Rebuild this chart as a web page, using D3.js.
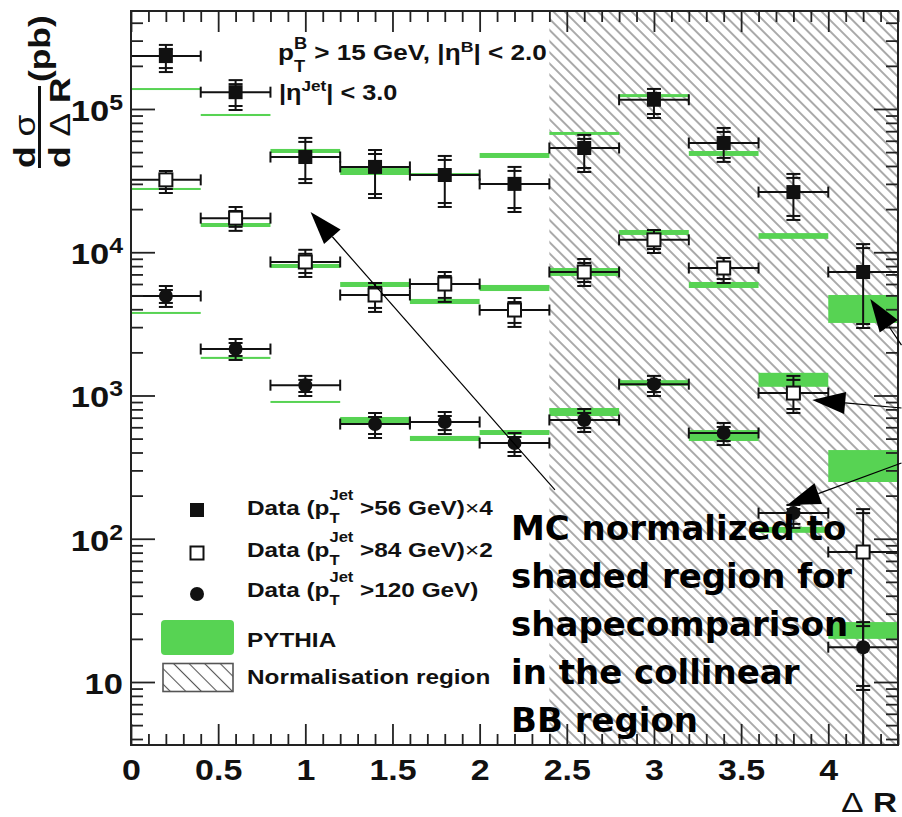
<!DOCTYPE html>
<html>
<head>
<meta charset="utf-8">
<script src="https://cdn.jsdelivr.net/npm/d3@7"></script>
<style>
  body { margin: 0; background: #fff; }
  svg { display: block; }
</style>
</head>
<body>
<div id="chart"></div>
<script>
// ---------- data ----------
const binEdges   = [0, 0.4, 0.8, 1.2, 1.6, 2.0, 2.4, 2.8, 3.2, 3.6, 4.0, 4.4];
const binCenters = [0.2, 0.6, 1.0, 1.4, 1.8, 2.2, 2.6, 3.0, 3.4, 3.8, 4.2];

// Data, pT(jet) > 56 GeV, scaled x4
const data56   = [2.34e5, 1.31e5, 4.62e4, 3.94e4, 3.46e4, 3.0e4, 5.34e4, 1.16e5, 5.79e4, 2.63e4, 7.28e3];
const data56Hi = [2.80e5, 1.59e5, 6.28e4, 5.17e4, 4.70e4, 3.94e4, 6.59e4, 1.38e5, 7.37e4, 3.52e4, 1.14e4];
const data56Lo = [1.81e5, 9.84e4, 3.04e4, 2.39e4, 2.07e4, 1.91e4, 3.63e4, 8.65e4, 4.27e4, 1.68e4, 2.96e3];

// Data, pT(jet) > 84 GeV, scaled x2
const data84   = [3.20e4, 1.73e4, 8.55e3, 5.03e3, 6.0e3, 3.95e3, 7.28e3, 1.22e4, 7.76e3, 1.04e3, 80.8];
const data84Hi = [3.69e4, 2.07e4, 1.04e4, 6.10e3, 7.28e3, 4.79e3, 8.97e3, 1.43e4, 9.12e3, 1.37e3, 161];
const data84Lo = [2.59e4, 1.41e4, 6.72e3, 3.83e3, 4.50e3, 3.01e3, 5.81e3, 9.88e3, 6.10e3, 755, 1.0];

// Data, pT(jet) > 120 GeV
const data120   = [4.95e3, 2.11e3, 1.18e3, 632, 653, 466, 675, 1.20e3, 547, 151, 17.5];
const data120Hi = [5.81e3, 2.48e3, 1.37e3, 755, 767, 547, 805, 1.37e3, 643, 172, 26.2];
const data120Lo = [4.15e3, 1.77e3, 992, 505, 538, 378, 556, 992, 451, 119, 8.8];

// PYTHIA prediction bands (upper / lower edge per bin)
const pythia56Hi  = [1.40e5, 9.23e4, 5.26e4, 3.87e4, 3.57e4, 4.93e4, 6.91e4, 1.27e5, 5.09e4, 1.36e4, 5.03e3];
const pythia56Lo  = [1.36e5, 8.93e4, 4.93e4, 3.46e4, 3.46e4, 4.55e4, 6.59e4, 1.21e5, 4.70e4, 1.24e4, 3.21e3];
const pythia84Hi  = [2.81e4, 1.60e4, 8.28e3, 6.20e3, 4.72e3, 5.91e3, 7.76e3, 1.43e4, 6.20e3, 1.44e3, 416];
const pythia84Lo  = [2.72e4, 1.50e4, 7.76e3, 5.72e3, 4.35e3, 5.36e3, 6.83e3, 1.32e4, 5.63e3, 1.15e3, 249];
const pythia120Hi = [3.83e3, 1.86e3, 916, 708, 522, 574, 818, 1.28e3, 574, 121, 26.2];
const pythia120Lo = [3.71e3, 1.80e3, 887, 632, 481, 530, 719, 1.17e3, 481, 110, 20.0];

// normalisation (shaded) region in Delta R
const normRegion = [2.4, 4.4];

// axis ranges and ticks
const xRange = [0, 4.4];
const yRange = [3.633, 4.83e5];
const xMajorTicks = [0, 0.5, 1, 1.5, 2, 2.5, 3, 3.5, 4];
const xTickLabels = ["0", "0.5", "1", "1.5", "2", "2.5", "3", "3.5", "4"];
const yMajorTicks = [10, 1e2, 1e3, 1e4, 1e5];
const yTickExponents = ["", "2", "3", "4", "5"];

// annotation
const noteLines = ["MC normalized to", "shaded region for", "shapecomparison", "in the collinear", "BB region"];
// arrows: [x, y] start -> [x, y] tip, in data coordinates
const arrowFrom = [[2.432, 219], [4.42, 2.25e3], [4.42, 818], [4.42, 338]];
const arrowTo   = [[1.03, 1.91e4], [4.241, 4.72e3], [3.908, 930], [3.765, 172]];

// ---------- layout ----------
const W = 902, H = 817;
const M = { left: 131, right: 898, top: 11, bottom: 745 };
const SX = 1.17;                 // horizontal stretch of the axis/legend font
const FONT = "'Liberation Sans', Arial, Helvetica, sans-serif";
const GREEN = "#57d353";
const INK = "#111";

const svg = d3.select("#chart").append("svg")
  .attr("width", W).attr("height", H)
  .attr("font-family", FONT).attr("font-weight", "bold");

const x = d3.scaleLinear().domain(xRange).range([M.left, M.right]);
const y = d3.scaleLog().domain(yRange).range([M.bottom, M.top]);

const defs = svg.append("defs");
defs.append("clipPath").attr("id", "plotClip").append("rect")
  .attr("x", M.left).attr("y", M.top)
  .attr("width", M.right - M.left).attr("height", M.bottom - M.top);

function hatchPattern(id, spacing, width, color) {
  const p = defs.append("pattern").attr("id", id)
    .attr("patternUnits", "userSpaceOnUse")
    .attr("width", spacing).attr("height", spacing)
    .attr("patternTransform", "rotate(-45)");
  p.append("line").attr("x1", spacing / 2).attr("x2", spacing / 2)
    .attr("y1", -1).attr("y2", spacing + 1)
    .attr("stroke", color).attr("stroke-width", width);
}
hatchPattern("hatch", 7.9, 1.0, "#555");
hatchPattern("hatchSmall", 11, 1.1, "#555");

// text with sub/superscripts, stretched horizontally
function rich(parent, px, py, parts, fs, anchor = "start", extra = "") {
  const g = parent.append("g");
  let cx = 0;
  parts.forEach(p => {
    if (typeof p === "string" || p.t !== undefined) {
      const s = typeof p === "string" ? p : p.t;
      const t = g.append("text").attr("x", cx).attr("y", 0)
        .attr("font-size", fs).attr("fill", INK)
        .attr("xml:space", "preserve").style("white-space", "pre").text(s);
      if (p.w) t.attr("font-weight", p.w);
      cx += t.node().getComputedTextLength();
    } else {
      const small = fs * (p.scale || 0.68);
      let w = 0;
      if (p.sub != null) {
        const t = g.append("text").attr("x", cx).attr("y", fs * (p.subDy != null ? p.subDy : 0.45))
          .attr("font-size", small).attr("fill", INK).text(p.sub);
        w = Math.max(w, t.node().getComputedTextLength());
      }
      if (p.sup != null) {
        const t = g.append("text").attr("x", cx).attr("y", -fs * (p.supDy != null ? p.supDy : 0.45))
          .attr("font-size", small).attr("fill", INK).text(p.sup);
        w = Math.max(w, t.node().getComputedTextLength());
      }
      cx += w + (p.gap || 0);
    }
  });
  const shift = anchor === "end" ? -cx : anchor === "middle" ? -cx / 2 : 0;
  g.attr("transform", `translate(${px},${py}) ${extra || `scale(${SX},1)`} translate(${shift},0)`);
  return g;
}

// ---------- normalisation region ----------
svg.append("rect")
  .attr("x", x(normRegion[0])).attr("y", M.top)
  .attr("width", x(normRegion[1]) - x(normRegion[0])).attr("height", M.bottom - M.top)
  .attr("fill", "url(#hatch)");

// ---------- PYTHIA bands ----------
const plot = svg.append("g").attr("clip-path", "url(#plotClip)");
const bands = [[pythia56Hi, pythia56Lo], [pythia84Hi, pythia84Lo], [pythia120Hi, pythia120Lo]];
bands.forEach(([hi, lo]) => {
  plot.append("g").selectAll("rect").data(binCenters).join("rect")
    .attr("x", (d, i) => x(binEdges[i]))
    .attr("width", (d, i) => x(binEdges[i + 1]) - x(binEdges[i]))
    .attr("y", (d, i) => y(hi[i]))
    .attr("height", (d, i) => Math.max(2, y(lo[i]) - y(hi[i])))
    .attr("fill", GREEN);
});

// ---------- data points ----------
const series = [
  { v: data56,  hi: data56Hi,  lo: data56Lo,  marker: "square" },
  { v: data84,  hi: data84Hi,  lo: data84Lo,  marker: "open" },
  { v: data120, hi: data120Hi, lo: data120Lo, marker: "circle" }
];

function drawMarker(g, type, cx, cy) {
  if (type === "square") {
    g.append("rect").attr("x", cx - 7).attr("y", cy - 7).attr("width", 14).attr("height", 14).attr("fill", INK);
  } else if (type === "open") {
    g.append("rect").attr("x", cx - 6.5).attr("y", cy - 6.5).attr("width", 13).attr("height", 13)
      .attr("fill", "#fff").attr("stroke", INK).attr("stroke-width", 2);
  } else {
    g.append("circle").attr("cx", cx).attr("cy", cy).attr("r", 7).attr("fill", INK);
  }
}

const markerLayer = svg.append("g").attr("clip-path", "url(#plotClip)");
series.forEach(s => {
  const g = plot.append("g").attr("stroke", INK).attr("stroke-width", 2).attr("fill", "none");
  binCenters.forEach((c, i) => {
    const cx = x(c), cy = y(s.v[i]);
    const x0 = x(binEdges[i]), x1 = x(binEdges[i + 1]);
    const yh = y(s.hi[i]), yl = y(s.lo[i]);
    // horizontal bin width bar with end ticks
    g.append("line").attr("x1", x0).attr("x2", x1).attr("y1", cy).attr("y2", cy);
    g.append("line").attr("x1", x0).attr("x2", x0).attr("y1", cy - 5.5).attr("y2", cy + 5.5);
    g.append("line").attr("x1", x1).attr("x2", x1).attr("y1", cy - 5.5).attr("y2", cy + 5.5);
    // vertical error bar with double caps (inner + total)
    g.append("line").attr("x1", cx).attr("x2", cx).attr("y1", yh).attr("y2", yl);
    [yh, yh + 4, yl, yl - 4].forEach(yy => {
      g.append("line").attr("x1", cx - 7).attr("x2", cx + 7).attr("y1", yy).attr("y2", yy);
    });
  });
});
series.forEach(s => {
  binCenters.forEach((c, i) => drawMarker(markerLayer, s.marker, x(c), y(s.v[i])));
});

// ---------- axes (ROOT style: ticks inside on all four sides) ----------
const xMinor = d3.range(0, 45).map(i => i / 10).filter(v => v <= xRange[1] + 1e-9 && Math.abs(v * 2 - Math.round(v * 2)) > 1e-6);
const yMinor = [];
for (let e = 0; e <= 6; e++) for (let k = 2; k <= 9; k++) {
  const v = k * Math.pow(10, e);
  if (v > yRange[0] && v < yRange[1]) yMinor.push(v);
}

function styleAxis(sel) {
  sel.select(".domain").remove();
  sel.selectAll(".tick line").attr("stroke", "#222").attr("stroke-width", 1.8);
}

const xAxis = svg.append("g").attr("transform", `translate(0,${M.bottom})`)
  .call(d3.axisBottom(x).tickValues(xMajorTicks).tickSizeInner(-21).tickSizeOuter(0).tickPadding(14)
    .tickFormat((d, i) => xTickLabels[i]));
styleAxis(xAxis);
xAxis.selectAll(".tick text").attr("font-size", 29).attr("fill", INK)
  .attr("font-family", FONT).attr("font-weight", "bold").attr("transform", `scale(${SX},1)`);

svg.append("g").attr("transform", `translate(0,${M.bottom})`)
  .call(d3.axisBottom(x).tickValues(xMinor).tickSizeInner(-11).tickSizeOuter(0).tickFormat(""))
  .call(styleAxis);
svg.append("g").attr("transform", `translate(0,${M.top})`)
  .call(d3.axisTop(x).tickValues(xMajorTicks).tickSizeInner(-21).tickSizeOuter(0).tickFormat(""))
  .call(styleAxis);
svg.append("g").attr("transform", `translate(0,${M.top})`)
  .call(d3.axisTop(x).tickValues(xMinor).tickSizeInner(-11).tickSizeOuter(0).tickFormat(""))
  .call(styleAxis);

svg.append("g").attr("transform", `translate(${M.left},0)`)
  .call(d3.axisLeft(y).tickValues(yMajorTicks).tickSizeInner(-24).tickSizeOuter(0).tickFormat(""))
  .call(styleAxis);
svg.append("g").attr("transform", `translate(${M.left},0)`)
  .call(d3.axisLeft(y).tickValues(yMinor).tickSizeInner(-12).tickSizeOuter(0).tickFormat(""))
  .call(styleAxis);
svg.append("g").attr("transform", `translate(${M.right},0)`)
  .call(d3.axisRight(y).tickValues(yMajorTicks).tickSizeInner(-24).tickSizeOuter(0).tickFormat(""))
  .call(styleAxis);
svg.append("g").attr("transform", `translate(${M.right},0)`)
  .call(d3.axisRight(y).tickValues(yMinor).tickSizeInner(-12).tickSizeOuter(0).tickFormat(""))
  .call(styleAxis);

// y tick labels: 10, 10^2 ... 10^5
yMajorTicks.forEach((v, i) => {
  const parts = yTickExponents[i] ? ["10", { sup: yTickExponents[i], supDy: 0.38, scale: 0.72 }] : ["10"];
  rich(svg, 123, y(v) + 12, parts, 29.5, "end");
});

// frame
svg.append("rect").attr("x", M.left).attr("y", M.top)
  .attr("width", M.right - M.left).attr("height", M.bottom - M.top)
  .attr("fill", "none").attr("stroke", "#222").attr("stroke-width", 2);

// axis titles
rich(svg, 897, 812, [{ t: "\u0394", w: "normal" }, " R"], 28.5, "end");

const yTitle = svg.append("g").attr("transform", "translate(0,168) rotate(-90) scale(1.22,1)");
const TS = 29;
function titleText(u, v, parts) {
  const t = yTitle.append("text").attr("x", u).attr("y", v).attr("font-size", TS).attr("fill", INK)
    .style("white-space", "pre");
  parts.forEach(p => {
    const ts = t.append("tspan").text(typeof p === "string" ? p : p.t);
    if (p.w) ts.attr("font-weight", p.w);
  });
}
titleText(0, 35, ["d ", { t: "\u03c3", w: "normal" }]);
titleText(0, 70, ["d ", { t: "\u0394", w: "normal" }, " R"]);
yTitle.append("line").attr("x1", 0).attr("x2", 82 / 1.22).attr("y1", 39.5).attr("y2", 39.5)
  .attr("stroke", INK).attr("stroke-width", 3);
titleText((168 - 82) / 1.22, 50, ["(pb)"]);

// ---------- cut labels ----------
rich(svg, 278, 60, ["p", { sub: "T", sup: "B", subDy: 0.55, supDy: 0.5, scale: 0.7 }, " > 15 GeV, |\u03b7",
  { sup: "B", supDy: 0.36, scale: 0.68 }, "| < 2.0"], 22.3);
rich(svg, 279, 100, ["|\u03b7", { sup: "Jet", supDy: 0.4, scale: 0.68 }, "| < 3.0"], 21.6);

// ---------- legend ----------
const legendMarkers = ["square", "open", "circle"];
const legendLabels = [
  ["Data (p", { sub: "T", sup: "Jet", subDy: 0.4, supDy: 0.72, scale: 0.68 }, " >56 GeV)", { t: "\u00d7", w: "normal" }, "4"],
  ["Data (p", { sub: "T", sup: "Jet", subDy: 0.4, supDy: 0.72, scale: 0.68 }, " >84 GeV)", { t: "\u00d7", w: "normal" }, "2"],
  ["Data (p", { sub: "T", sup: "Jet", subDy: 0.4, supDy: 0.72, scale: 0.68 }, " >120 GeV)"],
  ["PYTHIA"],
  ["Normalisation region"]
];
const legendRowY = [510, 553, 594, 637, 677];
const legendTextY = [515, 557, 597, 647, 684];
const legend = svg.append("g");
legendMarkers.forEach((m, i) => drawMarker(legend, m, 197, legendRowY[i]));
legend.append("rect").attr("x", 161).attr("y", 620).attr("width", 73).attr("height", 35)
  .attr("rx", 4).attr("fill", GREEN);
legend.append("rect").attr("x", 163).attr("y", 663.5).attr("width", 70).attr("height", 28)
  .attr("fill", "url(#hatchSmall)").attr("stroke", "#555").attr("stroke-width", 1.6);
legendLabels.forEach((parts, i) => rich(legend, 247, legendTextY[i], parts, 20.8));

// ---------- annotation ----------
const note = svg.append("g");
noteLines.forEach((line, i) => {
  note.append("text").attr("x", 511).attr("y", 540 + i * 48)
    .attr("font-family", "'DejaVu Sans', sans-serif").attr("font-weight", "bold")
    .attr("font-size", 34).attr("fill", "#000").text(line);
});

const arrows = svg.append("g");
arrowFrom.forEach((f, i) => {
  const t = arrowTo[i];
  const x1 = x(f[0]), y1 = y(f[1]), x2 = x(t[0]), y2 = y(t[1]);
  const len = Math.hypot(x2 - x1, y2 - y1), ux = (x2 - x1) / len, uy = (y2 - y1) / len;
  const L = 33, hw = 11;
  const bx = x2 - ux * L, by = y2 - uy * L;
  arrows.append("line").attr("x1", x1).attr("y1", y1).attr("x2", bx).attr("y2", by)
    .attr("stroke", "#000").attr("stroke-width", 1.2);
  arrows.append("polygon")
    .attr("points", [[x2, y2], [bx - uy * hw, by + ux * hw], [bx + uy * hw, by - ux * hw]].map(p => p.join(",")).join(" "))
    .attr("fill", "#000");
});
</script>
</body>
</html>
